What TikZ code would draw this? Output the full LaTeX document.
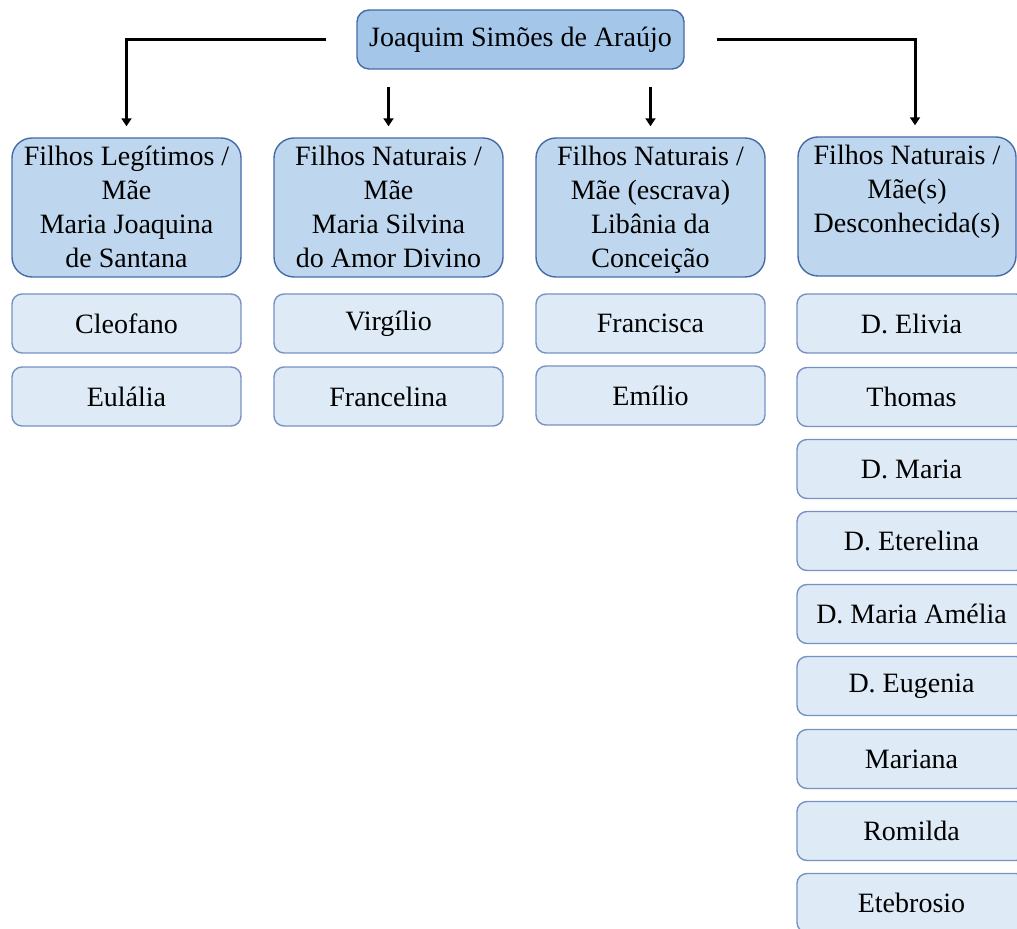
\documentclass[tikz,border=0pt]{standalone}
\usepackage{fontspec}
\setmainfont{Liberation Serif}
\usetikzlibrary{arrows.meta}
\definecolor{root_blue}{RGB}{164, 198, 233}
\definecolor{head_blue}{RGB}{190, 215, 238}
\definecolor{kid_blue}{RGB}{222, 235, 247}
\definecolor{edge_blue}{RGB}{70, 106, 168}
\definecolor{kidedge_blue}{RGB}{118, 146, 196}
\tikzstyle{rootbox}=[rectangle,rounded corners=6pt,fill=root_blue,draw=edge_blue,
  line width=0.7pt,minimum width=163.5pt,minimum height=29.5pt,inner sep=0pt]
\tikzstyle{headbox}=[rectangle,rounded corners=10pt,fill=head_blue,draw=edge_blue,
  line width=0.7pt,minimum width=114.5pt,minimum height=69.5pt,inner xsep=0pt,inner ysep=4pt]
\tikzstyle{kidbox}=[rectangle,rounded corners=5pt,fill=kid_blue,draw=kidedge_blue,
  line width=0.7pt,minimum width=114.5pt,minimum height=29.5pt,inner sep=0pt]
\tikzstyle{conn}=[line width=1.5pt,-{Triangle[width=5pt,length=4pt]},shorten >=5.5pt]
\newcommand{\headtext}[1]{\parbox[c][61.5pt][t]{106pt}{\centering #1}}

\begin{document}
\begin{tikzpicture}[x=0.5pt, y=-0.5pt, font=\fontsize{14}{17}\selectfont]
            \path [use as bounding box, clip] (0, 0) rectangle (1017, 929);
            \node [style=rootbox] (root) at (520.5, 39.5) {Joaquim Simões de Araújo};
            \node [style=headbox] (h1) at (126.5, 207.5) {\headtext{Filhos Legítimos /\\ Mãe\\ Maria Joaquina\\ de Santana}};
            \node [style=headbox] (h2) at (388.5, 207.5) {\headtext{Filhos Naturais /\\ Mãe\\ Maria Silvina\\ do Amor Divino}};
            \node [style=headbox] (h3) at (650.5, 207.5) {\headtext{Filhos Naturais /\\ Mãe (escrava)\\ Libânia da\\ Conceição}};
            \node [style=headbox, minimum width=109pt] (h4) at (907, 206.5) {\headtext{Filhos Naturais /\\ Mãe(s)\\ Desconhecida(s)}};
            \node [style=kidbox] (k11) at (126.5, 323.5) {Cleofano};
            \node [style=kidbox] (k12) at (126.5, 396.5) {Eulália};
            \node [style=kidbox] (k21) at (388.5, 323.5) {Virgílio};
            \node [style=kidbox] (k22) at (388.5, 396.5) {Francelina};
            \node [style=kidbox] (k31) at (650.5, 323.5) {Francisca};
            \node [style=kidbox] (k32) at (650.5, 395.5) {Emílio};
            \node [style=kidbox] (k41) at (911.5, 323.5) {D. Elivia};
            \node [style=kidbox] (k42) at (911.5, 397) {Thomas};
            \node [style=kidbox] (k43) at (911.5, 469) {D. Maria};
            \node [style=kidbox] (k44) at (911.5, 541) {D. Eterelina};
            \node [style=kidbox] (k45) at (911.5, 614) {D. Maria Amélia};
            \node [style=kidbox] (k46) at (911.5, 686) {D. Eugenia};
            \node [style=kidbox] (k47) at (911.5, 759) {Mariana};
            \node [style=kidbox] (k48) at (911.5, 831) {Romilda};
            \node [style=kidbox] (k49) at (911.5, 903) {Etebrosio};
            \draw [style=conn, shorten <=15pt] (root.west) -| (h1.north);
            \draw [style=conn, shorten <=8.5pt] (h2.north |- root.south) to (h2.north);
            \draw [style=conn, shorten <=8.5pt] (h3.north |- root.south) to (h3.north);
            \draw [style=conn, shorten <=16pt] (root.east) -| ([xshift=4pt]h4.north);
    \end{tikzpicture}
\end{document}
